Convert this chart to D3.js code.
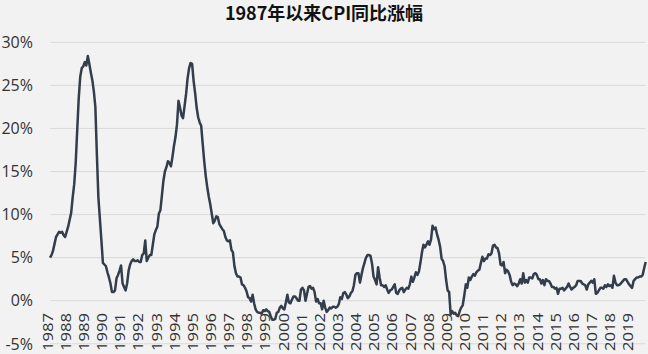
<!DOCTYPE html>
<html>
<head>
<meta charset="utf-8">
<script src="https://cdn.jsdelivr.net/npm/d3@7"></script>
<style>
  body { margin: 0; background: #f2f2f2; }
  svg { display: block; }
</style>
</head>
<body>
<svg id="chart" width="648" height="354"></svg>
<script>
// CPI year-on-year, monthly, Jan 1987 - Nov 2019 (%)
var years = ["1987","1988","1989","1990","1991","1992","1993","1994","1995","1996","1997",
  "1998","1999","2000","2001","2002","2003","2004","2005","2006","2007","2008","2009",
  "2010","2011","2012","2013","2014","2015","2016","2017","2018","2019"];

var cpi = [
  5.0, 5.3, 5.8, 6.6, 7.4, 7.7, 8.0, 7.9, 8.0, 7.6, 7.4, 8.0,        // 1987
  8.6, 9.4, 10.2, 12.0, 13.5, 16.0, 19.8, 23.5, 26.0, 27.0, 27.2, 27.7, // 1988
  27.3, 28.4, 27.5, 26.5, 25.6, 24.3, 22.5, 17.0, 12.0, 9.5, 7.0, 4.4, // 1989
  4.2, 4.0, 3.3, 2.7, 2.0, 1.0, 1.0, 1.2, 2.6, 3.0, 3.5, 4.1,        // 1990
  2.0, 1.6, 1.2, 2.0, 3.5, 4.2, 4.6, 4.8, 4.6, 4.6, 4.7, 4.5,        // 1991
  4.5, 5.3, 5.5, 7.0, 4.6, 5.0, 5.3, 5.3, 6.5, 7.7, 8.2, 8.6,        // 1992
  10.1, 10.5, 12.2, 13.9, 15.0, 15.5, 16.2, 16.0, 15.6, 16.7, 18.0, 19.0, // 1993
  20.5, 23.2, 22.4, 21.5, 21.2, 22.6, 24.0, 25.8, 27.0, 27.6, 27.5, 25.5, // 1994
  24.1, 22.4, 21.3, 20.7, 20.3, 18.2, 16.2, 14.5, 13.2, 12.1, 11.2, 10.1, // 1995
  9.0, 9.3, 9.8, 9.7, 8.9, 8.6, 8.3, 8.1, 7.4, 7.0, 6.9, 7.0,        // 1996
  5.9, 5.6, 4.0, 3.2, 2.8, 2.8, 2.7, 1.9, 1.8, 1.5, 1.1, 0.4,        // 1997
  0.3, -0.1, 0.7, -0.3, -1.0, -1.3, -1.4, -1.4, -1.5, -1.1, -1.2, -1.0, // 1998
  -1.2, -1.3, -1.8, -2.2, -2.2, -2.1, -1.4, -1.3, -0.8, -0.6, -0.9, -1.0, // 1999
  -0.2, 0.7, -0.2, -0.3, 0.1, 0.5, 0.5, 0.3, 0.0, 0.0, 1.3, 1.5,     // 2000
  1.2, 0.0, 0.8, 1.6, 1.7, 1.4, 1.5, 1.0, -0.1, 0.2, -0.3, -0.3,     // 2001
  -1.0, 0.0, -0.8, -1.3, -1.1, -0.8, -0.9, -0.7, -0.7, -0.8, -0.7, -0.4, // 2002
  0.4, 0.2, 0.9, 1.0, 0.7, 0.3, 0.5, 0.9, 1.1, 1.8, 3.0, 3.2,        // 2003
  3.2, 2.1, 3.0, 3.8, 4.4, 5.0, 5.3, 5.3, 5.2, 4.3, 2.8, 2.4,        // 2004
  1.9, 3.9, 2.7, 1.8, 1.8, 1.6, 1.8, 1.3, 0.9, 1.2, 1.3, 1.6,        // 2005
  1.9, 0.9, 0.8, 1.2, 1.4, 1.5, 1.0, 1.3, 1.5, 1.4, 1.9, 2.8,        // 2006
  2.2, 2.7, 3.3, 3.0, 3.4, 4.4, 5.6, 6.5, 6.2, 6.5, 6.9, 6.5,        // 2007
  7.1, 8.7, 8.3, 8.5, 7.7, 7.1, 6.3, 4.9, 4.6, 4.0, 2.4, 1.2,        // 2008
  1.0, -1.6, -1.2, -1.5, -1.4, -1.7, -1.8, -1.2, -0.8, -0.5, 0.6, 1.9, // 2009
  1.5, 2.7, 2.4, 2.8, 3.1, 2.9, 3.3, 3.5, 3.6, 4.4, 5.1, 4.6,        // 2010
  4.9, 4.9, 5.4, 5.3, 5.5, 6.4, 6.5, 6.2, 6.1, 5.5, 4.2, 4.1,        // 2011
  4.5, 3.2, 3.6, 3.4, 3.0, 2.2, 1.8, 2.0, 1.9, 1.7, 2.0, 2.5,        // 2012
  2.0, 3.2, 2.1, 2.4, 2.1, 2.7, 2.7, 2.6, 3.1, 3.2, 3.0, 2.5,        // 2013
  2.5, 2.0, 2.4, 1.8, 2.5, 2.3, 2.3, 2.0, 1.6, 1.6, 1.4, 1.5,        // 2014
  0.8, 1.4, 1.4, 1.5, 1.2, 1.4, 1.6, 2.0, 1.6, 1.3, 1.5, 1.6,        // 2015
  1.8, 2.3, 2.3, 2.3, 2.0, 1.9, 1.8, 1.3, 1.9, 2.1, 2.3, 2.1,        // 2016
  2.5, 0.8, 0.9, 1.2, 1.5, 1.5, 1.4, 1.8, 1.6, 1.9, 1.7, 1.8,        // 2017
  1.5, 2.9, 2.1, 1.8, 1.8, 1.9, 2.1, 2.3, 2.5, 2.5, 2.2, 1.9,        // 2018
  1.7, 1.5, 2.3, 2.5, 2.7, 2.7, 2.8, 2.8, 3.0, 3.8, 4.5               // 2019
];

var yTicks = [-5, 0, 5, 10, 15, 20, 25, 30];

var svg = d3.select("#chart");
var W = 648, H = 354;
var plotLeft = 50, plotRight = 645.7, plotTop = 42.3, plotBottom = 343.8;

svg.append("rect").attr("width", W).attr("height", H).attr("fill", "#f2f2f2");

// title
svg.append("text")
  .attr("x", W / 2)
  .attr("y", 20)
  .attr("text-anchor", "middle")
  .style("font-family", "'Noto Sans CJK SC', 'Noto Sans', sans-serif")
  .style("font-weight", "bold")
  .style("font-size", "18px")
  .attr("fill", "#111")
  .text("1987年以来CPI同比涨幅");

var xScale = d3.scaleLinear().domain([0, 394]).range([plotLeft, plotRight]);
var yScale = d3.scaleLinear().domain([-5, 30]).range([plotBottom, plotTop]);

// grid
svg.append("g").selectAll("line").data(yTicks).enter().append("line")
  .attr("x1", plotLeft)
  .attr("x2", plotRight)
  .attr("y1", d => yScale(d))
  .attr("y2", d => yScale(d))
  .attr("stroke", "#d9d9d9")
  .attr("stroke-width", 1);

// y labels
svg.append("g").selectAll("text").data(yTicks).enter().append("text")
  .attr("x", 33)
  .attr("y", d => yScale(d))
  .attr("dy", "0.36em")
  .attr("text-anchor", "end")
  .style("font-family", "'Open Sans', sans-serif")
  .style("font-size", "16px")
  .attr("fill", "#333")
  .text(d => d + "%");

// x labels, one per January
svg.append("g").selectAll("text").data(years).enter().append("text")
  .attr("transform", (d, i) => "translate(" + (xScale(i * 12) - 2.5) + ",351) rotate(-90)")
  .attr("dy", "0.36em")
  .attr("textLength", 38)
  .attr("lengthAdjust", "spacingAndGlyphs")
  .style("font-family", "'Open Sans', sans-serif")
  .style("font-size", "14.5px")
  .attr("fill", "#333")
  .text(d => d);

// line
var line = d3.line()
  .x((d, i) => xScale(i))
  .y(d => yScale(d));

svg.append("path")
  .datum(cpi)
  .attr("d", line)
  .attr("fill", "none")
  .attr("stroke", "#333d4c")
  .attr("stroke-width", 2.5)
  .attr("stroke-linejoin", "round");
</script>
</body>
</html>
